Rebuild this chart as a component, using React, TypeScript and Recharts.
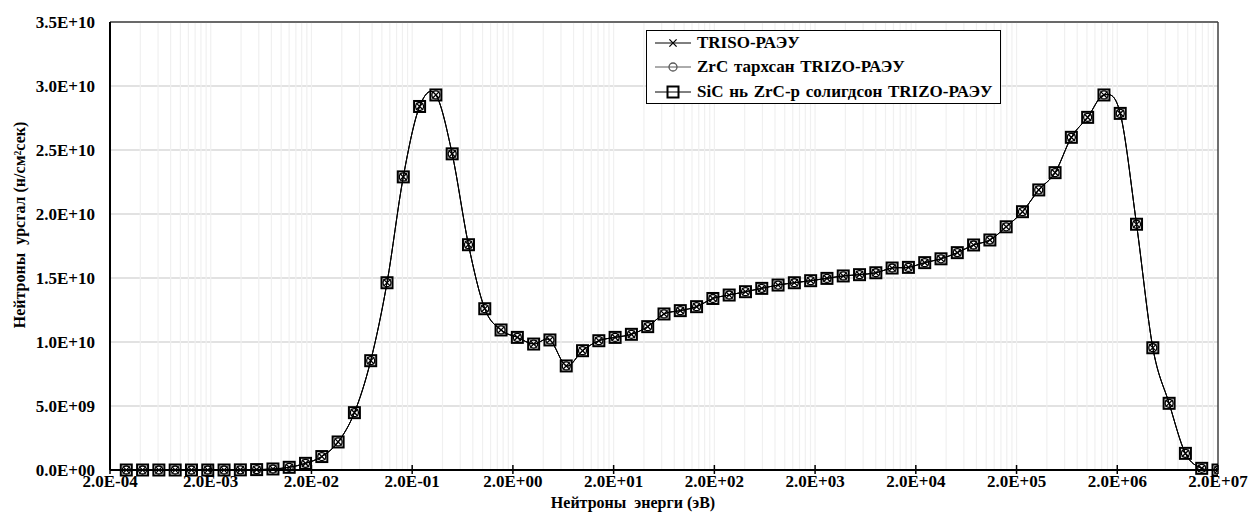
import React from "react";
import {
  CartesianGrid,
  Label,
  Line,
  LineChart,
  ReferenceLine,
  XAxis,
  YAxis,
} from "recharts";

// Energy group points (eV)
const ENERGY_EV = [
  2.902e-4, 4.212e-4, 6.111e-4, 8.873e-4, 1.288e-3, 1.869e-3, 2.713e-3, 3.937e-3,
  5.713e-3, 8.292e-3, 1.203e-2, 1.747e-2, 2.535e-2, 3.679e-2, 5.339e-2, 7.75e-2,
  0.1125, 0.1632, 0.2369, 0.3438, 0.499, 0.7242, 1.051, 1.525, 2.214, 3.213, 4.663,
  6.768, 9.822, 14.26, 20.69, 30.03, 43.58, 63.25, 91.79, 133.2, 193.3, 280.6, 407.3,
  591.1, 857.9, 1245, 1807, 2623, 3806, 5524, 8018, 11636, 16888, 24511, 35566, 51618,
  74914, 108728, 157802, 229026, 332400, 482400, 700140, 1.016e6, 1.475e6, 2.14e6,
  3.106e6, 4.508e6, 6.543e6, 9.496e6, 1.378e7, 2.0e7,
];

// Flux values in units of 1E+09 n/cm²s. The three curves coincide at this scale.
const FLUX_TRISO = [
  0, 0, 0, 0, 0, 0, 0, 0.01, 0.03, 0.08, 0.21, 0.52, 1.05, 2.19, 4.48, 8.54, 14.63,
  22.9, 28.4, 29.3, 24.7, 17.6, 12.6, 10.94, 10.36, 9.84, 10.16, 8.13, 9.32, 10.1,
  10.36, 10.6, 11.2, 12.19, 12.45, 12.76, 13.4, 13.67, 13.93, 14.19, 14.45, 14.63,
  14.79, 14.97, 15.16, 15.26, 15.41, 15.78, 15.83, 16.2, 16.5, 16.98, 17.58, 17.97,
  19.0, 20.18, 21.88, 23.23, 25.99, 27.55, 29.3, 27.86, 19.2, 9.55, 5.21, 1.3, 0.13, 0,
];
const FLUX_ZRC = [
  0, 0, 0, 0, 0, 0, 0, 0.01, 0.03, 0.08, 0.21, 0.52, 1.05, 2.19, 4.48, 8.54, 14.63,
  22.9, 28.4, 29.3, 24.7, 17.6, 12.6, 10.94, 10.36, 9.84, 10.16, 8.13, 9.32, 10.1,
  10.36, 10.6, 11.2, 12.19, 12.45, 12.76, 13.4, 13.67, 13.93, 14.19, 14.45, 14.63,
  14.79, 14.97, 15.16, 15.26, 15.41, 15.78, 15.83, 16.2, 16.5, 16.98, 17.58, 17.97,
  19.0, 20.18, 21.88, 23.23, 25.99, 27.55, 29.3, 27.86, 19.2, 9.55, 5.21, 1.3, 0.13, 0,
];
const FLUX_SIC = [
  0, 0, 0, 0, 0, 0, 0, 0.01, 0.03, 0.08, 0.21, 0.52, 1.05, 2.19, 4.48, 8.54, 14.63,
  22.9, 28.4, 29.3, 24.7, 17.6, 12.6, 10.94, 10.36, 9.84, 10.16, 8.13, 9.32, 10.1,
  10.36, 10.6, 11.2, 12.19, 12.45, 12.76, 13.4, 13.67, 13.93, 14.19, 14.45, 14.63,
  14.79, 14.97, 15.16, 15.26, 15.41, 15.78, 15.83, 16.2, 16.5, 16.98, 17.58, 17.97,
  19.0, 20.18, 21.88, 23.23, 25.99, 27.55, 29.3, 27.86, 19.2, 9.55, 5.21, 1.3, 0.13, 0,
];

const X_TICKS = [2e-4, 2e-3, 2e-2, 0.2, 2, 20, 200, 2000, 2e4, 2e5, 2e6, 2e7];
const Y_TICKS = [0, 5, 10, 15, 20, 25, 30, 35];

const X_TITLE = "Нейтроны  энерги (эВ)";
const Y_TITLE = "Нейтроны  урсгал (н/см²сек)";

type MarkerKind = "x" | "circle" | "square";

const SERIES: { key: string; name: string; values: number[]; marker: MarkerKind; color: string }[] = [
  { key: "triso", name: "TRISO-РАЭУ", values: FLUX_TRISO, marker: "x", color: "#000" },
  { key: "zrc", name: "ZrC тархсан TRIZO-РАЭУ", values: FLUX_ZRC, marker: "circle", color: "#595959" },
  { key: "sic", name: "SiC нь ZrC-р солигдсон TRIZO-РАЭУ", values: FLUX_SIC, marker: "square", color: "#000" },
];

// draw order: grey circle series underneath
const DRAW_ORDER = ["zrc", "triso", "sic"];

const FONT = '"Liberation Serif", "Times New Roman", serif';

const rows = ENERGY_EV.map((e, i) => {
  const r: Record<string, number> = { e };
  SERIES.forEach((s) => (r[s.key] = s.values[i]));
  return r;
});

// Excel-style minor gridlines: 1x..9x of every major value
const X_GRID = X_TICKS.slice(0, -1).flatMap((t, i) =>
  [1, 2, 3, 4, 5, 6, 7, 8, 9].filter((k) => i > 0 || k > 1).map((k) => t * k),
);

function sci(v: number): string {
  const [m, e] = v.toExponential(1).split("e");
  const n = Number(e);
  return `${m}E${n < 0 ? "-" : "+"}${String(Math.abs(n)).padStart(2, "0")}`;
}

// Catmull-Rom style smoothing like Excel's "smoothed line"
const excelSmooth = (context: any) => {
  let pts: number[][] = [];
  return {
    areaStart() {},
    areaEnd() {},
    lineStart() {
      pts = [];
    },
    point(x: number, y: number) {
      pts.push([+x, +y]);
    },
    lineEnd() {
      if (!pts.length) return;
      context.moveTo(pts[0][0], pts[0][1]);
      for (let i = 0; i < pts.length - 1; i++) {
        const p0 = pts[Math.max(i - 1, 0)];
        const p1 = pts[i];
        const p2 = pts[i + 1];
        const p3 = pts[Math.min(i + 2, pts.length - 1)];
        context.bezierCurveTo(
          p1[0] + (p2[0] - p0[0]) / 6,
          p1[1] + (p2[1] - p0[1]) / 6,
          p2[0] - (p3[0] - p1[0]) / 6,
          p2[1] - (p3[1] - p1[1]) / 6,
          p2[0],
          p2[1],
        );
      }
    },
  };
};

function MarkerShape({ kind, cx, cy, color }: { kind: MarkerKind; cx: number; cy: number; color: string }) {
  if (kind === "x") {
    const d = 3.6;
    return (
      <path
        d={`M${cx - d},${cy - d}L${cx + d},${cy + d}M${cx - d},${cy + d}L${cx + d},${cy - d}`}
        stroke={color}
        strokeWidth={1.3}
        fill="none"
      />
    );
  }
  if (kind === "circle") {
    return <circle cx={cx} cy={cy} r={4} stroke={color} strokeWidth={1.3} fill="none" />;
  }
  return (
    <rect x={cx - 5.5} y={cy - 5.5} width={11} height={11} stroke={color} strokeWidth={2} fill="none" />
  );
}

function EnergyTick({ x, y, payload }: any) {
  return (
    <g>
      <line x1={x} x2={x} y1={y - 5} y2={y + 4} stroke="#000" strokeWidth={1.5} />
      <text x={x} y={y + 17} textAnchor="middle" fontFamily={FONT} fontWeight="bold" fontSize={17} fill="#000">
        {sci(payload.value)}
      </text>
    </g>
  );
}

function LegendBox() {
  return (
    <div
      style={{
        position: "absolute",
        left: 646,
        top: 30,
        width: 355,
        height: 74,
        boxSizing: "border-box",
        border: "1.5px solid #000",
        background: "#fff",
        fontFamily: FONT,
        fontWeight: "bold",
        fontSize: 17,
      }}
    >
      {SERIES.map((s) => (
        <div key={s.key} style={{ display: "flex", alignItems: "center", height: 24.3, paddingLeft: 8 }}>
          <svg width={36} height={14} style={{ marginRight: 6, flex: "none" }}>
            <line x1={0} x2={36} y1={7} y2={7} stroke={s.color} strokeWidth={1} />
            <MarkerShape kind={s.marker} cx={18} cy={7} color={s.color} />
          </svg>
          <span style={{ whiteSpace: "pre", wordSpacing: 1.5 }}>{s.name}</span>
        </div>
      ))}
    </div>
  );
}

export default function App() {
  return (
    <div style={{ position: "absolute", left: 0, top: 0, width: 1258, height: 520, background: "#fff" }}>
      <LineChart width={1258} height={520} data={rows} margin={{ top: 22, right: 40, bottom: 0, left: 0 }}>
        <CartesianGrid vertical={false} stroke="#d9d9d9" strokeWidth={1.5} />
        {X_GRID.map((v) => (
          <ReferenceLine key={`g${v}`} x={v} stroke="#f0f0f0" strokeWidth={1.2} />
        ))}
        <ReferenceLine y={35} stroke="#404040" strokeWidth={1.5} />
        <ReferenceLine x={2e7} stroke="#404040" strokeWidth={1.5} />
        <XAxis
          dataKey="e"
          type="number"
          scale="log"
          domain={[2e-4, 2e7]}
          allowDataOverflow
          ticks={X_TICKS}
          height={50}
          tickSize={0}
          tickMargin={0}
          tickLine={false}
          axisLine={{ stroke: "#000", strokeWidth: 2 }}
          tick={<EnergyTick />}
        >
          <Label
            content={() => (
              <text x={633} y={508} textAnchor="middle" fontFamily={FONT} fontWeight="bold" fontSize={16} fill="#000" style={{ whiteSpace: "pre" }}>
                {X_TITLE}
              </text>
            )}
          />
        </XAxis>
        <YAxis
          type="number"
          domain={[0, 35]}
          ticks={Y_TICKS}
          width={110}
          tickSize={0}
          tickMargin={15}
          tickLine={false}
          axisLine={{ stroke: "#000", strokeWidth: 2 }}
          tickFormatter={(v: number) => sci(v * 1e9)}
          tick={{ fontFamily: FONT, fontWeight: "bold", fontSize: 17, fill: "#000" }}
        >
          <Label
            content={() => (
              <text transform="rotate(-90)" x={-225} y={25} textAnchor="middle" fontFamily={FONT} fontWeight="bold" fontSize={16} fill="#000" style={{ whiteSpace: "pre" }}>
                {Y_TITLE}
              </text>
            )}
          />
        </YAxis>
        {DRAW_ORDER.map((k) => {
          const s = SERIES.find((q) => q.key === k)!;
          return (
            <Line
              key={s.key}
              dataKey={s.key}
              name={s.name}
              type={excelSmooth as any}
              stroke={s.color}
              strokeWidth={1}
              isAnimationActive={false}
              activeDot={false}
              dot={(p: any) => (
                <MarkerShape key={`${s.key}-${p.index}`} kind={s.marker} cx={p.cx} cy={p.cy} color="#000" />
              )}
            />
          );
        })}
      </LineChart>
      <LegendBox />
    </div>
  );
}
